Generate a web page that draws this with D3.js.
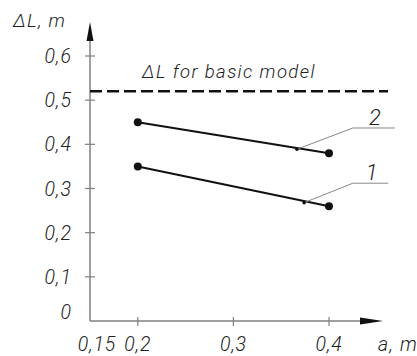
<!DOCTYPE html>
<html>
<head>
<meta charset="utf-8">
<script src="https://cdn.jsdelivr.net/npm/d3@7"></script>
<style>
  body { margin: 0; background: #fff; }
  svg { display: block; }
  text { font-family: Roboto, "DejaVu Sans", sans-serif; font-style: italic; font-weight: 300; fill: #222; }
</style>
</head>
<body>
<svg id="chart"></svg>
<script>
const width = 417;
const height = 356;

// data
const xValues = [0.2, 0.4];
const series1 = [0.35, 0.26];
const series2 = [0.45, 0.38];
const basicModel = 0.52;

const xTicks = [0.15, 0.2, 0.3, 0.4];
const xTickLabels = ["0,15", "0,2", "0,3", "0,4"];
const yTicks = [0, 0.1, 0.2, 0.3, 0.4, 0.5, 0.6];
const yTickLabels = ["0", "0,1", "0,2", "0,3", "0,4", "0,5", "0,6"];

// leader callouts: point on line, knee, end of shelf
const calloutNames = ["1", "2"];
const calloutPoint = [[0.374, 0.268], [0.3665, 0.389]];
const calloutKnee = [[0.425, 0.312], [0.425, 0.437]];
const calloutEnd = [[0.462, 0.312], [0.469, 0.437]];

const svg = d3.select("#chart").attr("width", width).attr("height", height);

const x = d3.scaleLinear().domain([0.15, 0.4]).range([90, 329]);
const y = d3.scaleLinear().domain([0, 0.6]).range([321, 56]);

const axisColor = "#808080";

// axes lines
svg.append("line")
  .attr("x1", x(0.15)).attr("x2", 372)
  .attr("y1", y(0)).attr("y2", y(0))
  .attr("stroke", axisColor).attr("stroke-width", 1.5);
svg.append("line")
  .attr("x1", x(0.15)).attr("x2", x(0.15))
  .attr("y1", y(0)).attr("y2", 32)
  .attr("stroke", axisColor).attr("stroke-width", 1.5);

// arrow heads
svg.append("path")
  .attr("d", `M360,${y(0) - 3.5}L383,${y(0)}L360,${y(0) + 3.5}Z`)
  .attr("fill", "#111");
svg.append("path")
  .attr("d", `M${x(0.15) - 3.5},41L${x(0.15)},22L${x(0.15) + 3.5},41Z`)
  .attr("fill", "#111");

// ticks
svg.append("g")
  .selectAll("line")
  .data(yTicks.filter((d) => d > 0))
  .enter()
  .append("line")
  .attr("x1", x(0.15) - 5).attr("x2", x(0.15) + 5)
  .attr("y1", (d) => y(d)).attr("y2", (d) => y(d))
  .attr("stroke", axisColor).attr("stroke-width", 1.2);

svg.append("g")
  .selectAll("line")
  .data(xTicks.filter((d) => d > 0.15))
  .enter()
  .append("line")
  .attr("x1", (d) => x(d)).attr("x2", (d) => x(d))
  .attr("y1", y(0) - 4).attr("y2", y(0) + 5)
  .attr("stroke", axisColor).attr("stroke-width", 1.2);

// tick labels
svg.append("g")
  .selectAll("text")
  .data(yTicks)
  .enter()
  .append("text")
  .attr("x", 72)
  .attr("y", (d) => (d === 0 ? y(d) - 9 : y(d)))
  .attr("dy", "0.36em")
  .attr("text-anchor", "end")
  .attr("font-size", 19.5)
  .attr("letter-spacing", 1)
  .text((d, i) => yTickLabels[i]);

svg.append("g")
  .selectAll("text")
  .data(xTicks)
  .enter()
  .append("text")
  .attr("x", (d) => (d === 0.15 ? x(d) + 7 : x(d)))
  .attr("y", 351)
  .attr("text-anchor", "middle")
  .attr("font-size", 19.5)
  .attr("letter-spacing", 0.8)
  .text((d, i) => xTickLabels[i]);

// axis titles
svg.append("text")
  .attr("x", 13).attr("y", 27)
  .attr("font-size", 19)
  .attr("letter-spacing", 1.2)
  .text("ΔL, m");
svg.append("text")
  .attr("x", 378).attr("y", 351)
  .attr("font-size", 19.5)
  .attr("letter-spacing", 1.2)
  .text("a, m");

// basic model line
svg.append("line")
  .attr("x1", x(0.15)).attr("x2", 388)
  .attr("y1", y(basicModel)).attr("y2", y(basicModel))
  .attr("stroke", "#111").attr("stroke-width", 2.5)
  .attr("stroke-dasharray", "12,5");
svg.append("text")
  .attr("x", 142).attr("y", 78)
  .attr("font-size", 18.5)
  .attr("letter-spacing", 1.4)
  .text("ΔL for basic model");

// series
const line = d3.line().x((d) => x(d[0])).y((d) => y(d[1]));
[series1, series2].forEach((s) => {
  const pts = xValues.map((v, i) => [v, s[i]]);
  svg.append("path")
    .attr("d", line(pts))
    .attr("fill", "none")
    .attr("stroke", "#111")
    .attr("stroke-width", 2);
  svg.append("g")
    .selectAll("circle")
    .data(pts)
    .enter()
    .append("circle")
    .attr("cx", (d) => x(d[0]))
    .attr("cy", (d) => y(d[1]))
    .attr("r", 4)
    .attr("fill", "#111");
});

// callouts
calloutNames.forEach((name, i) => {
  const pts = [calloutPoint[i], calloutKnee[i], calloutEnd[i]];
  svg.append("path")
    .attr("d", line(pts))
    .attr("fill", "none")
    .attr("stroke", "#888")
    .attr("stroke-width", 1);
  svg.append("circle")
    .attr("cx", x(calloutPoint[i][0]))
    .attr("cy", y(calloutPoint[i][1]))
    .attr("r", 1.8)
    .attr("fill", "#111");
  svg.append("text")
    .attr("x", (x(calloutKnee[i][0]) + x(calloutEnd[i][0])) / 2 + 1)
    .attr("y", y(calloutKnee[i][1]) - 3)
    .attr("text-anchor", "middle")
    .attr("font-size", 22)
    .text(name);
});
</script>
</body>
</html>
